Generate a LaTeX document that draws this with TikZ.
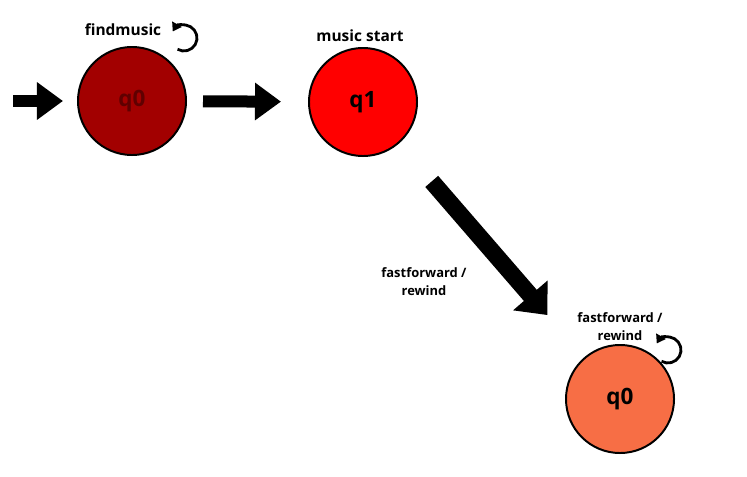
\documentclass[tikz,border=0pt]{standalone}
\usepackage{fontspec}
\setmainfont{Open Sans}
\usetikzlibrary{arrows.meta,positioning}
\definecolor{statedark}{HTML}{A20000}
\definecolor{statered}{HTML}{FF0000}
\definecolor{stateorange}{HTML}{F76E45}
\definecolor{labeldark}{HTML}{600000}
\tikzset{
  fatarr/.style={-{Triangle[length=0.65cm, width=0.9cm]}, line width=0.3cm},
  widearr/.style={-{Triangle[length=0.65cm, width=1.1cm]}, line width=0.425cm},
  looparr/.style={-{Triangle[length=6pt, width=7.5pt]}, line width=2pt},
}
\begin{document}
\begin{tikzpicture}[
  x=0.025cm, y=0.025cm,
  statenode/.style={circle, draw, line width=1.4pt, minimum size=2.7cm, inner sep=0pt,
    font=\fontsize{16}{18}\selectfont\bfseries},
  lblbig/.style={font=\fontsize{11}{13}\selectfont\bfseries, inner sep=1pt},
  lblsmall/.style={font=\fontsize{9.2}{12.8}\selectfont\bfseries, align=center, inner sep=1pt},
]
  \useasboundingbox (0,0) rectangle (747,476);
  % states
  \node[statenode, fill=statedark, text=labeldark] (q0) at (132,375) {q0};
  \node[statenode, fill=statered] (q1) at (363,374) {q1};
  \node[statenode, fill=stateorange] (q2) at (620,77) {q0};
  \coordinate (start) at (13,375);
  % labels
  \node[lblbig] (l0) at (123,446) {findmusic};
  \node[lblbig] (l1) at (360,440) {music start};
  \node[lblsmall] (l2) at (424,194) {fastforward /\\rewind};
  \node[lblsmall] (l3) at (620,149) {fastforward /\\rewind};
  % transitions
  \draw[fatarr, shorten >=0.35cm] (start) -- (q0);
  \draw[fatarr, shorten <=0.4cm, shorten >=0.675cm] (q0) -- (q1);
  \draw[widearr, shorten <=1.25cm, shorten >=1.4cm] (q1) -- (q2);
  % self loops
  \coordinate (c0) at ([shift={(52,63)}]q0.center);
  \coordinate (c2) at ([shift={(48,49)}]q2.center);
  \foreach \c in {c0,c2}
    \draw[looparr] (\c) ++(-120:13) arc[start angle=-120, end angle=150, radius=13];
\end{tikzpicture}
\end{document}
